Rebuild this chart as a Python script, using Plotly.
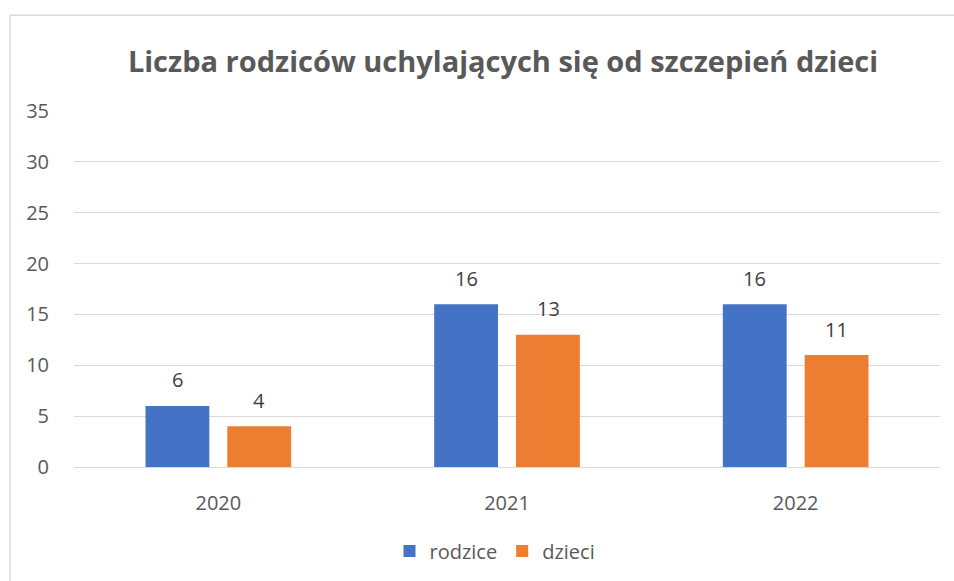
import plotly.graph_objects as go

categories = ["2020", "2021", "2022"]
rodzice = [6, 16, 16]
dzieci = [4, 13, 11]
y_ticks = [0, 5, 10, 15, 20, 25, 30, 35]
title_text = "Liczba rodziców uchylających się od szczepień dzieci"

FONT = "Open Sans, Lato, sans-serif"
W, H = 954, 581
L, R, T, B = 74, 14, 111, 113
pw, ph = W - L - R, H - T - B
LABEL_SIZE = 20

series = [("rodzice", rodzice, "#4472C4", -41), ("dzieci", dzieci, "#ED7D31", 41)]

fig = go.Figure()
for name, vals, color, _ in series:
    fig.add_trace(go.Bar(name=name, x=categories, y=vals, marker_color=color,
                         marker_line=dict(width=0)))

# data labels above bars (category index + value from the data)
for name, vals, color, dx in series:
    for idx, v in enumerate(vals):
        fig.add_annotation(x=idx, y=v, xref="x", yref="y", text=str(v), showarrow=False,
                           xshift=dx, yshift=26, yanchor="middle",
                           font=dict(size=LABEL_SIZE, color="#404040", family=FONT))

fig.update_layout(
    width=W, height=H,
    margin=dict(l=L, r=R, t=T, b=B),
    paper_bgcolor="white", plot_bgcolor="white",
    barmode="group", bargap=0.433, bargroupgap=0.22,
    title=dict(text=f"<b>{title_text}</b>", x=(503 - L) / pw, xref="paper", xanchor="center",
               y=1 - 62 / H, yref="container", yanchor="middle",
               font=dict(size=29, color="#595959", family=FONT)),
    font=dict(family=FONT, color="#595959"),
    legend=dict(orientation="h", x=(495 - L) / pw, xanchor="center", y=-(551 - (T + ph)) / ph,
                yanchor="middle", font=dict(size=LABEL_SIZE, color="#595959", family=FONT),
                traceorder="normal"),
    showlegend=True,
    hovermode=False,
)
fig.update_yaxes(range=[0, 35], tickvals=y_ticks, showgrid=True, gridcolor="#D9D9D9", gridwidth=1.3,
                 zeroline=False, showline=False,
                 tickfont=dict(size=LABEL_SIZE, color="#595959", family=FONT),
                 ticks="", ticklabelstandoff=24, fixedrange=True)
fig.update_xaxes(type="category", categoryorder="array", categoryarray=categories,
                 range=[-0.5, len(categories) - 0.5],
                 showline=True, linecolor="#D9D9D9", linewidth=1.3, ticks="",
                 tickfont=dict(size=LABEL_SIZE, color="#595959", family=FONT), ticklabelstandoff=18,
                 fixedrange=True)

# chart area border (left + top)
fig.add_shape(type="line", xref="paper", yref="paper",
              x0=(10 - L) / pw, x1=(W + 5 - L) / pw, y0=1 + (T - 15) / ph, y1=1 + (T - 15) / ph,
              line=dict(color="#D9D9D9", width=1.5))
fig.add_shape(type="line", xref="paper", yref="paper",
              x0=(10 - L) / pw, x1=(10 - L) / pw, y0=1 + (T - 15) / ph, y1=-(H + 5 - T - ph) / ph,
              line=dict(color="#D9D9D9", width=1.5))

fig.write_html("out.html", post_script="document.body.style.margin='0';",
               config={"displayModeBar": False})
